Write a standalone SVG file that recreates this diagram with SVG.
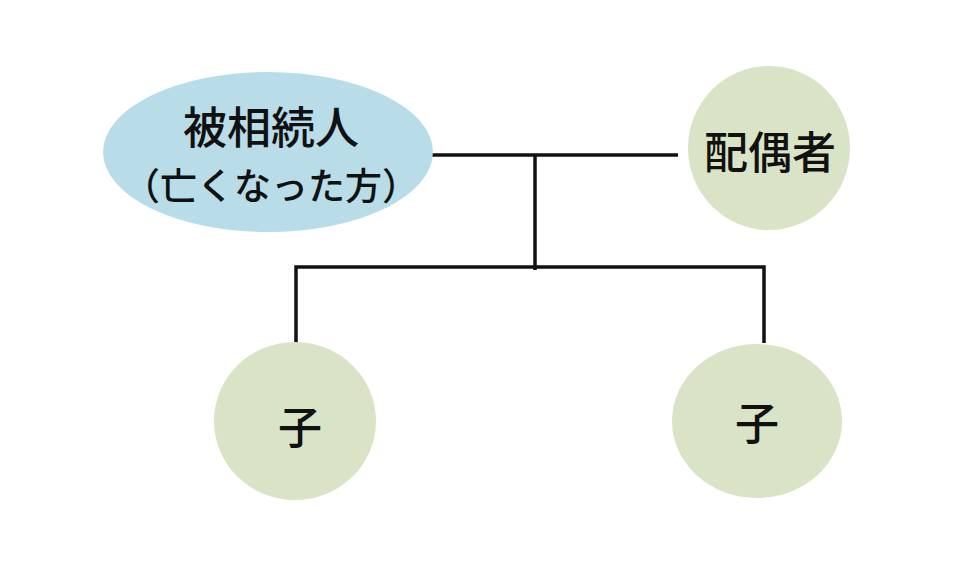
<svg xmlns="http://www.w3.org/2000/svg" width="960" height="581" viewBox="0 0 960 581">
<style>
.blue{fill:#b9dde8}
.green{fill:#d8e4c5}
.t{font-family:"Noto Sans CJK JP","Noto Sans CJK SC",sans-serif;font-weight:500;fill:#111;text-anchor:middle}
.c{stroke:#111;stroke-width:3.5;fill:none}
</style>
<rect width="960" height="581" fill="#fff"/>
<g id="connectors">
<line class="c" x1="432" y1="155" x2="678" y2="155"/>
<line class="c" x1="535" y1="155" x2="535" y2="270"/>
<polyline class="c" points="296,346 296,267 764,267 764,343"/>
</g>
<g id="decedent">
<ellipse class="blue" cx="268" cy="152" rx="165" ry="80"/>
<text class="t" x="271" y="144" font-size="44">被相続人</text>
<text class="t" x="271" y="200" font-size="37">（亡くなった方）</text>
</g>
<g id="spouse">
<ellipse class="green" cx="769" cy="148" rx="81" ry="82"/>
<text class="t" x="770" y="169" font-size="44">配偶者</text>
</g>
<g id="child1">
<ellipse class="green" cx="295" cy="421" rx="81" ry="79"/>
<text class="t" x="300" y="444" font-size="44">子</text>
</g>
<g id="child2">
<ellipse class="green" cx="757" cy="421" rx="85" ry="77"/>
<text class="t" x="757" y="440" font-size="44">子</text>
</g>
</svg>
